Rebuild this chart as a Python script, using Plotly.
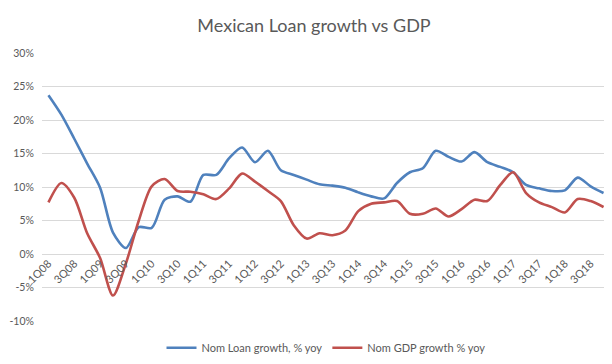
import plotly.graph_objects as go

quarters = [f"{q}Q{y:02d}" for y in range(8, 19) for q in range(1, 5)]

loan_growth = [23.7, 20.8, 17.2, 13.5, 9.9, 3.2, 0.9, 4.0, 3.9, 8.1, 8.6, 7.8,
               11.8, 11.8, 14.3, 15.9, 13.7, 15.4, 12.5, 11.8, 11.1, 10.4, 10.2, 9.9,
               9.2, 8.6, 8.3, 10.6, 12.2, 12.8, 15.4, 14.5, 13.8, 15.2, 13.7, 13.0,
               12.2, 10.3, 9.8, 9.4, 9.5, 11.4, 10.1, 9.1]

gdp_growth = [7.7, 10.6, 8.4, 3.1, -0.6, -6.2, -1.4, 5.0, 10.1, 11.2, 9.4, 9.3,
              8.9, 8.2, 9.8, 12.0, 10.8, 9.4, 7.9, 4.3, 2.3, 3.1, 2.8, 3.5,
              6.4, 7.5, 7.7, 7.9, 6.0, 6.0, 6.8, 5.6, 6.7, 8.1, 7.9, 10.3,
              12.2, 9.1, 7.7, 7.0, 6.2, 8.2, 7.9, 7.0]

y_ticks = [-10, -5, 0, 5, 10, 15, 20, 25, 30]

idx = list(range(len(quarters)))
fig = go.Figure()
fig.add_trace(go.Scatter(x=idx, y=loan_growth, mode="lines", name="Nom Loan growth, % yoy",
                         line=dict(color="#4F81BD", width=2.6, shape="spline", smoothing=0.8)))
fig.add_trace(go.Scatter(x=idx, y=gdp_growth, mode="lines", name="Nom GDP growth % yoy",
                         line=dict(color="#C0504D", width=2.6, shape="spline", smoothing=0.8)))

font_family = "Lato, 'Open Sans', sans-serif"
fig.update_layout(
    width=612, height=364,
    margin=dict(l=34, r=10, t=45, b=44),
    paper_bgcolor="white", plot_bgcolor="white",
    title=dict(text="Mexican Loan growth vs GDP", x=0.5, xref="container", xanchor="center",
               y=1 - 18 / 364, yref="container", yanchor="middle",
               font=dict(family=font_family, size=18, color="#595959")),
    font=dict(family=font_family, size=10.5, color="#595959"),
    showlegend=True,
    legend=dict(orientation="h", x=0.5, xanchor="center", y=-0.1, yanchor="middle",
                font=dict(size=11, color="#595959"), itemwidth=30, traceorder="normal"),
    xaxis=dict(range=[-0.5, len(quarters) - 0.5], tickmode="array",
               tickvals=idx[::2], ticktext=quarters[::2], tickangle=-45,
               showgrid=False, zeroline=False, showline=False,
               anchor="free", position=0.25, automargin=False,
               tickfont=dict(size=11, color="#595959"), ticks=""),
    yaxis=dict(range=[-10, 30], tickmode="array", tickvals=y_ticks,
               ticktext=[f"{v}%" for v in y_ticks],
               showgrid=True, gridcolor="#D9D9D9", gridwidth=1,
               zeroline=True, zerolinecolor="#D9D9D9", zerolinewidth=1,
               ticks="outside", ticklen=5, tickcolor="rgba(0,0,0,0)",
               automargin=False, tickfont=dict(size=10.5, color="#595959")),
)
fig.write_html("out.html")
